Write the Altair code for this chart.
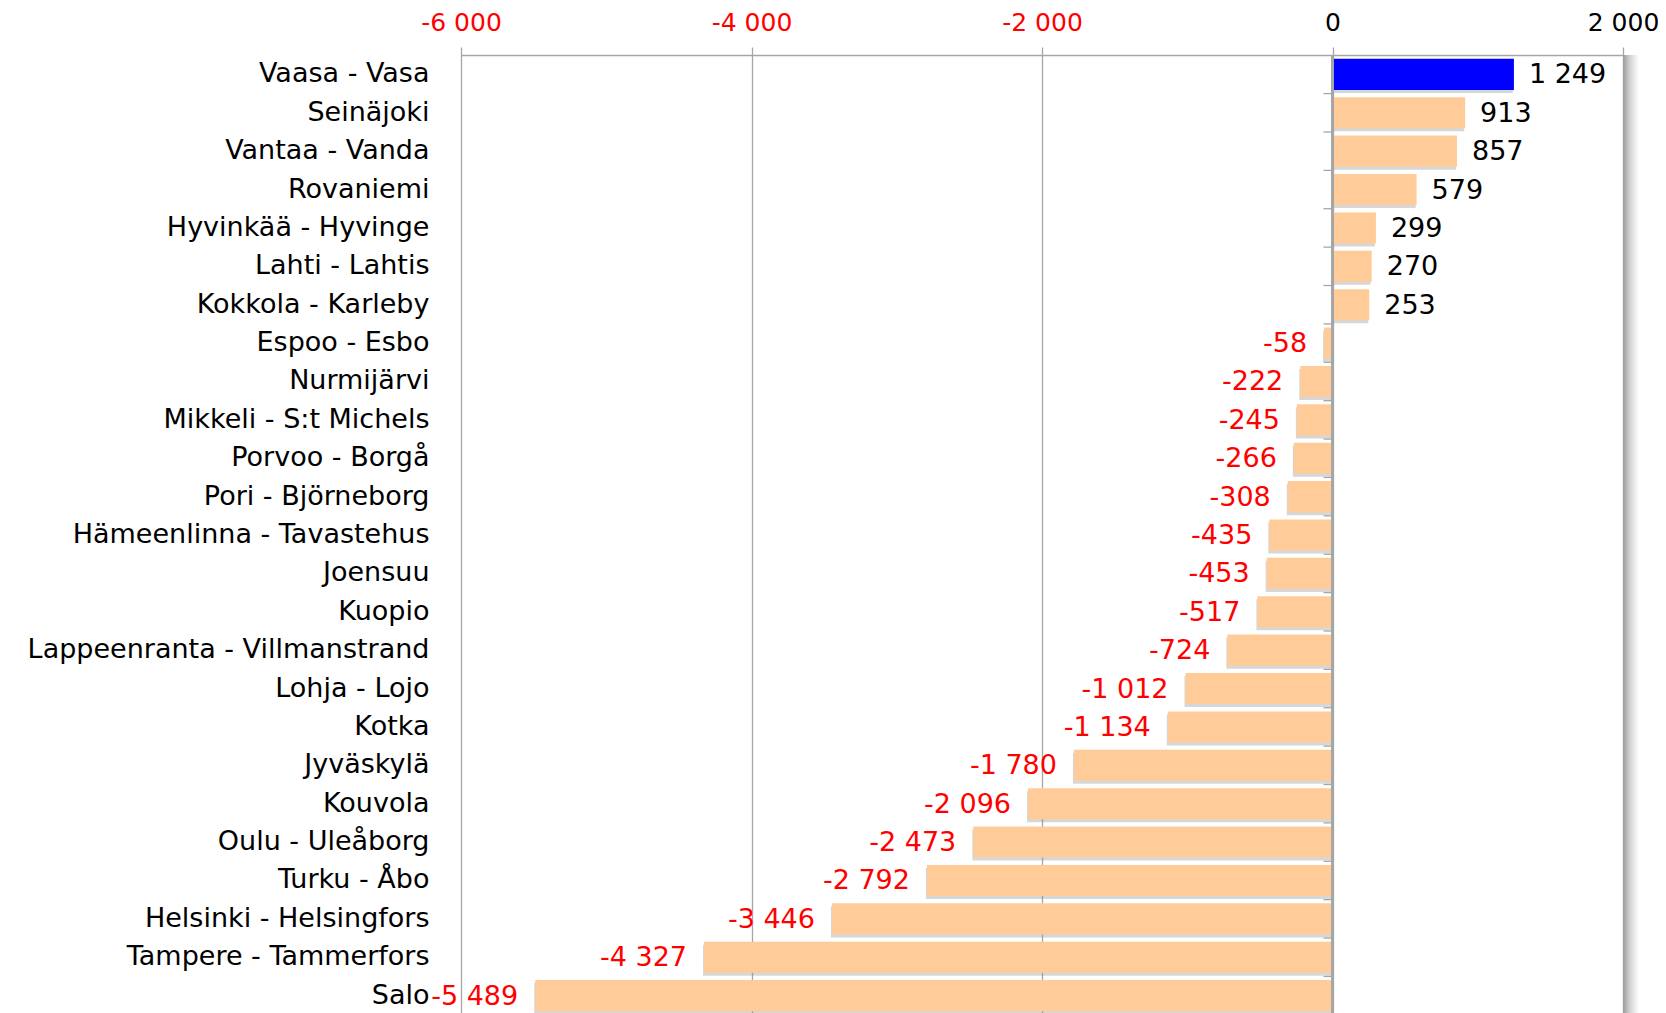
import altair as alt
import pandas as pd

cities = ["Vaasa - Vasa", "Seinäjoki", "Vantaa - Vanda", "Rovaniemi",
          "Hyvinkää - Hyvinge", "Lahti - Lahtis", "Kokkola - Karleby",
          "Espoo - Esbo", "Nurmijärvi", "Mikkeli - S:t Michels",
          "Porvoo - Borgå", "Pori - Björneborg", "Hämeenlinna - Tavastehus",
          "Joensuu", "Kuopio", "Lappeenranta - Villmanstrand", "Lohja - Lojo",
          "Kotka", "Jyväskylä", "Kouvola", "Oulu - Uleåborg", "Turku - Åbo",
          "Helsinki - Helsingfors", "Tampere - Tammerfors", "Salo"]
values = [1249, 913, 857, 579, 299, 270, 253, -58, -222, -245, -266, -308,
          -435, -453, -517, -724, -1012, -1134, -1780, -2096, -2473, -2792,
          -3446, -4327, -5489]
highlight = "Vaasa - Vasa"
x_ticks = [-6000, -4000, -2000, 0, 2000]

df = pd.DataFrame({"city": cities, "value": values})
df["label"] = [f"{v:,}".replace(",", " ") for v in values]

FONT = "DejaVu Sans"
FS = 27
W = 1162
H = 960
STEP = H / len(cities)
GRID = "#A6A6A6"

xscale = alt.Scale(domain=[-6000, 2000], nice=False, zero=False)
yenc = alt.Y("city:N", sort=cities, scale=alt.Scale(paddingInner=0.19, paddingOuter=0.1),
             axis=alt.Axis(title=None, ticks=False, domain=False, labelPadding=32,
                           labelFont=FONT, labelFontSize=FS, labelColor="#000000",
                           labelLimit=600))

xaxis = alt.Axis(orient="top", values=x_ticks, title=None, grid=True,
                 gridColor=GRID, gridWidth=1.3, domainColor=GRID, domainWidth=1.5,
                 tickColor=GRID, tickSize=8, tickWidth=1.3, labelPadding=12,
                 labelFlush=False, labelOverlap=False,
                 labelFont=FONT, labelFontSize=25,
                 labelExpr="(datum.value < 0 ? '-' : '') + replace(format(abs(datum.value), ','), ',', ' ')",
                 labelColor={"condition": {"test": "datum.value < 0", "value": "#FF0000"},
                             "value": "#000000"})

base = alt.Chart(df)

shadow_right = base.mark_rect(
    x2Offset=16,
    color={"gradient": "linear", "x1": 0, "x2": 1, "y1": 0, "y2": 0,
           "stops": [{"offset": 0, "color": "#9A9A9A"},
                     {"offset": 0.4, "color": "#D0D0D0"},
                     {"offset": 1, "color": "#FFFFFF"}]}
).encode(x=alt.datum(2000, scale=xscale), x2=alt.datum(2000))

bar_shadow = base.mark_bar(color="#8C8C8C", opacity=0.35, yOffset=3, xOffset=-1).encode(
    x=alt.X("value:Q", scale=xscale, axis=xaxis),
    x2=alt.datum(0),
    y=yenc,
)

bars = base.mark_bar().encode(
    x=alt.X("value:Q", scale=xscale, axis=xaxis),
    x2=alt.datum(0),
    y=yenc,
    color=alt.condition(alt.datum.city == highlight, alt.value("#0000FF"), alt.value("#FFCC99")),
)

zero_line = base.mark_rule(color=GRID, strokeWidth=2).encode(x=alt.datum(0, scale=xscale))

zero_ticks = base.mark_rule(color=GRID, strokeWidth=1.3, yOffset=STEP / 2, x2Offset=-9).encode(
    x=alt.datum(0, scale=xscale), x2=alt.datum(0), y=yenc,
)

pos_text = base.transform_filter("datum.value >= 0").mark_text(
    align="left", baseline="middle", dx=15, dy=1, font=FONT, fontSize=FS, color="#000000"
).encode(x=alt.X("value:Q", scale=xscale, axis=xaxis), y=yenc, text="label:N")

neg_text = base.transform_filter("datum.value < 0").mark_text(
    align="right", baseline="middle", dx=-17, dy=1, font=FONT, fontSize=FS, color="#FF0000"
).encode(x=alt.X("value:Q", scale=xscale, axis=xaxis), y=yenc, text="label:N")

chart = alt.layer(
    shadow_right, bar_shadow, bars, zero_line, zero_ticks, pos_text, neg_text
).properties(
    width=W, height=H,
    autosize=alt.AutoSizeParams(type="none"),
    padding={"left": 453, "top": 47, "right": 35, "bottom": 0},
).configure_view(stroke=None)

chart.save("out.html", embed_options={"renderer": "svg", "actions": False})
